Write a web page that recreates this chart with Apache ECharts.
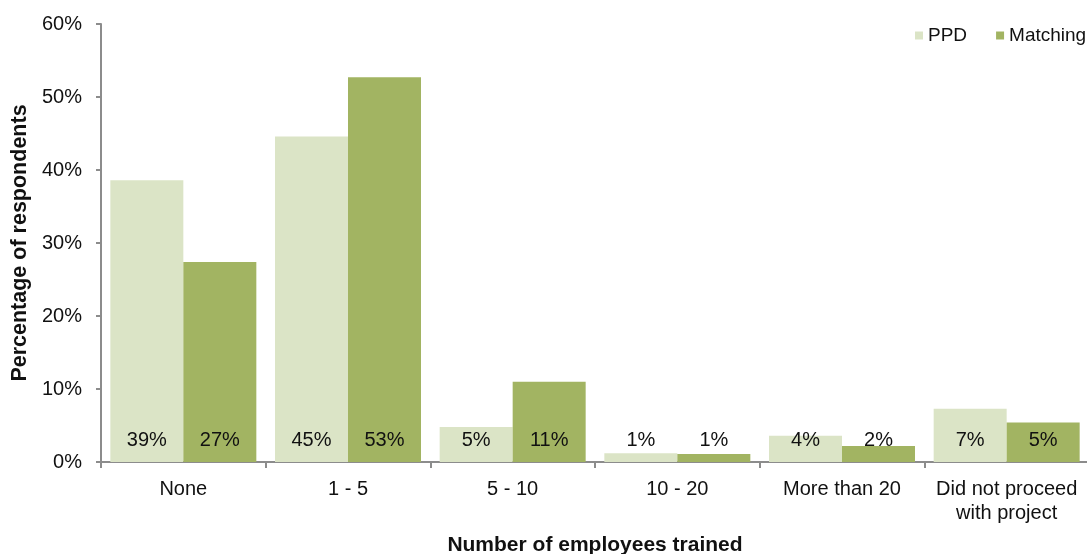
<!DOCTYPE html>
<html>
<head>
<meta charset="utf-8">
<script src="https://cdn.jsdelivr.net/npm/echarts@6/dist/echarts.min.js"></script>
<style>
  html, body { margin: 0; padding: 0; background: #fff; }
  #chart { width: 1087px; height: 554px; }
</style>
</head>
<body>
<div id="chart"></div>
<script>
// Number of employees trained, share of respondents by scheme
const categories = ['None', '1 - 5', '5 - 10', '10 - 20', 'More than 20', 'Did not proceed\nwith project'];
const ppdValues = [38.6, 44.6, 4.8, 1.2, 3.6, 7.3];
const matchingValues = [27.4, 52.7, 11.0, 1.1, 2.2, 5.4];
const yTicks = [0, 10, 20, 30, 40, 50, 60];

const FONT = '"Liberation Sans", Arial, sans-serif';
const axisGrey = '#8c8c8c';

const chart = echarts.init(document.getElementById('chart'));

const barLabel = {
  show: true,
  position: 'insideBottom',
  distance: 12,
  color: '#111',
  fontFamily: FONT,
  fontSize: 20,
  formatter: p => Math.round(p.value) + '%'
};

chart.setOption({
  animation: false,
  textStyle: { fontFamily: FONT },
  legend: {
    top: 26,
    left: 915,
    padding: 0,
    itemWidth: 8,
    itemHeight: 8,
    itemGap: 29,
    icon: 'rect',
    textStyle: { fontFamily: FONT, fontSize: 19, color: '#111' },
    data: ['PPD', 'Matching']
  },
  grid: {
    left: 101, top: 24, width: 988, bottom: 92,
    containLabel: false,
    outerBoundsMode: 'none'
  },
  xAxis: {
    type: 'category',
    data: categories,
    name: 'Number of employees trained',
    nameLocation: 'middle',
    nameGap: 73,
    nameTextStyle: { fontFamily: FONT, fontSize: 21, fontWeight: 'bold', color: '#111' },
    axisLine: { lineStyle: { color: axisGrey, width: 2 } },
    axisTick: { show: true, length: 6, lineStyle: { color: axisGrey, width: 2 } },
    axisLabel: { fontFamily: FONT, fontSize: 20, color: '#111', margin: 15, lineHeight: 24, interval: 0 }
  },
  yAxis: {
    type: 'value',
    min: yTicks[0],
    max: yTicks[yTicks.length - 1],
    interval: 10,
    name: 'Percentage of respondents',
    nameLocation: 'middle',
    nameGap: 65,
    nameTextStyle: { fontFamily: FONT, fontSize: 21.5, fontWeight: 'bold', color: '#111' },
    splitLine: { show: false },
    axisLine: { show: true, lineStyle: { color: axisGrey, width: 2 } },
    axisTick: { show: true, length: 5, lineStyle: { color: axisGrey, width: 2 } },
    axisLabel: { fontFamily: FONT, fontSize: 20, color: '#111', margin: 19, formatter: v => v + '%' }
  },
  series: [
    {
      name: 'PPD',
      type: 'bar',
      data: ppdValues,
      barWidth: 73,
      barGap: '0%',
      itemStyle: { color: '#dbe4c6' },
      label: barLabel
    },
    {
      name: 'Matching',
      type: 'bar',
      data: matchingValues,
      barWidth: 73,
      barGap: '0%',
      itemStyle: { color: '#a2b462' },
      label: barLabel
    }
  ]
});
</script>
</body>
</html>
